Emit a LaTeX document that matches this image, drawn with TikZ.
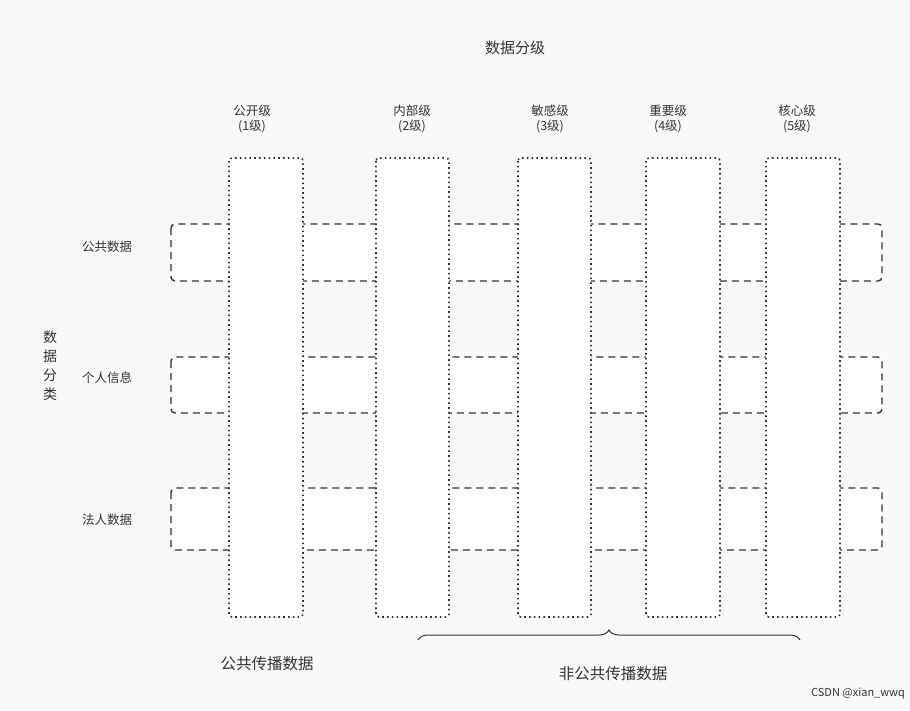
\documentclass[tikz,border=0pt]{standalone}
\usepackage{fontspec}
\setmainfont{Noto Sans CJK SC}
\usetikzlibrary{decorations.pathreplacing}
\definecolor{ln}{HTML}{333333}
\begin{document}
\begin{tikzpicture}[x=1pt,y=-1pt,
  rowbox/.style={draw=ln,fill=white,dashed,dash pattern=on 7pt off 5pt,line width=1.4pt,rounded corners=4pt},
  colbox/.style={draw=ln,fill=white,line width=1.6pt,dash pattern=on 1.6pt off 3.2pt,rounded corners=3pt},
  lab/.style={font=\fontsize{12.5}{15}\selectfont,text=ln,align=center,inner sep=0pt}]
\fill[fill={rgb,255:red,249;green,249;blue,249}] (0,0) rectangle (910,710);
\useasboundingbox (0,0) rectangle (910,710);
\foreach \a/\b/\n in {224/281/r1,357/413/r2,488/550/r3}
  \draw[rowbox] (171,\a) rectangle (882,\b);
\foreach \a/\b/\n in {229/303/c1,376/449/c2,518/591/c3,646/720/c4,766/840/c5}
  \draw[colbox] (\a,158) rectangle (\b,617);
\node[lab,font=\fontsize{15}{18}\selectfont] (t) at (515,48) {数据分级};
\node[lab] (l1) at (252,119) {公开级\\(1级)};
\node[lab] (l2) at (412,119) {内部级\\(2级)};
\node[lab] (l3) at (550,119) {敏感级\\(3级)};
\node[lab] (l4) at (668,119) {重要级\\(4级)};
\node[lab] (l5) at (797,119) {核心级\\(5级)};
\node[lab] (p1) at (107,247) {公共数据};
\node[lab] (p2) at (107,378) {个人信息};
\node[lab] (p3) at (107,520) {法人数据};
\node[lab,font=\fontsize{14}{19}\selectfont] (cl) at (50,366) {数\\据\\分\\类};
\node[lab,font=\fontsize{15.5}{18}\selectfont] (pub) at (267,664) {公共传播数据};
\node[lab,font=\fontsize{15.5}{18}\selectfont] (npub) at (613,674) {非公共传播数据};
\coordinate (bl) at (418,640);
\coordinate (br) at (800,640);
\draw[ln,line width=1pt,decorate,decoration={brace,amplitude=10pt,mirror,raise=0pt}] (br) -- (bl);
\node[lab,font=\fontsize{11}{13}\selectfont,anchor=east] (w) at (905,693) {CSDN @xian\_wwq};
\end{tikzpicture}
\end{document}
